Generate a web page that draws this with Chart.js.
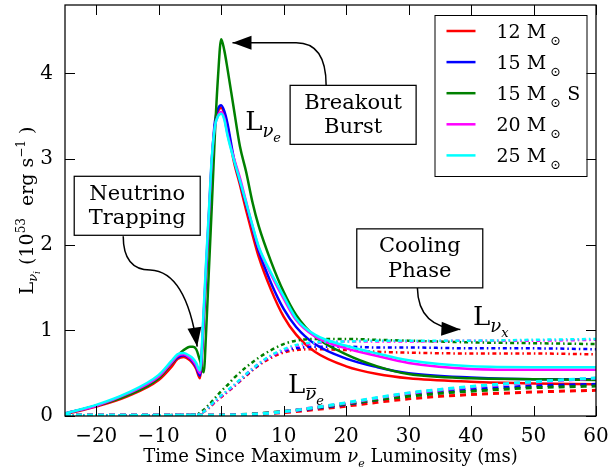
<!DOCTYPE html>
<html>
<head>
<meta charset="utf-8">
<script src="https://cdn.jsdelivr.net/npm/chart.js@4"></script>
<style>
  html, body { margin: 0; padding: 0; background: #fff; }
  #wrap { width: 613px; height: 471px; }
</style>
</head>
<body>
<div id="wrap"><canvas id="lum" width="613" height="471"></canvas></div>
<script>
// time since nu_e luminosity peak (ms)
const tNue = [-25, -20, -15, -10, -8, -7, -6, -5, -4.5, -4, -3.4, -2.8, -2.4, -2, -1.5, -1, -0.5, 0, 0.5, 1, 2, 3, 4, 5, 6, 8, 10, 12, 15, 20, 25, 30, 40, 50, 60];
const tNuebar = [-25, 0, 5, 10, 15, 20, 25, 30, 35, 40, 50, 60];
const tNux = [-25, -10, -4, -3, -2, -1, 0, 1, 2, 4, 6, 8, 10, 12, 15, 20, 25, 30, 40, 50, 60];

// progenitor models
const masses = ['12', '15', '15', '20', '25'];
const variants = ['', '', 'S', '', ''];
const colors = ['#ff0000', '#0000ff', '#008000', '#ff00ff', '#00ffff'];

// L_nu_e (1e53 erg/s)
const nue12 = [0.02, 0.11, 0.23, 0.42, 0.57, 0.665, 0.69, 0.65, 0.61, 0.55, 0.44, 1.12, 1.68, 2.25, 2.95, 3.4, 3.56, 3.6, 3.53, 3.38, 2.98, 2.7, 2.4, 2.12, 1.86, 1.47, 1.16, 0.95, 0.75, 0.58, 0.49, 0.44, 0.40, 0.38, 0.37];
const nue15 = [0.03, 0.12, 0.25, 0.45, 0.61, 0.68, 0.71, 0.67, 0.63, 0.57, 0.47, 1.15, 1.72, 2.28, 2.98, 3.44, 3.59, 3.63, 3.56, 3.42, 3.02, 2.74, 2.47, 2.2, 1.93, 1.55, 1.25, 1.04, 0.84, 0.67, 0.57, 0.50, 0.45, 0.43, 0.43];
const nue15s = [0.03, 0.12, 0.24, 0.44, 0.61, 0.70, 0.77, 0.81, 0.81, 0.78, 0.65, 0.51, 1.0, 1.65, 2.45, 3.3, 3.97, 4.4, 4.27, 4.06, 3.6, 3.15, 2.85, 2.5, 2.22, 1.8, 1.45, 1.18, 0.93, 0.72, 0.58, 0.49, 0.44, 0.43, 0.42];
const nue20 = [0.03, 0.12, 0.26, 0.46, 0.62, 0.70, 0.72, 0.68, 0.645, 0.59, 0.50, 1.2, 1.78, 2.32, 3.0, 3.38, 3.51, 3.55, 3.48, 3.3, 3.02, 2.78, 2.5, 2.22, 1.97, 1.65, 1.37, 1.12, 0.93, 0.79, 0.70, 0.62, 0.55, 0.54, 0.54];
const nue25 = [0.03, 0.13, 0.27, 0.48, 0.64, 0.72, 0.735, 0.70, 0.67, 0.62, 0.53, 1.25, 1.82, 2.35, 3.02, 3.38, 3.5, 3.53, 3.46, 3.28, 3.0, 2.75, 2.49, 2.23, 1.98, 1.67, 1.40, 1.14, 0.95, 0.82, 0.73, 0.65, 0.58, 0.57, 0.57];

// L_anti-nu_e
const nuebar12 = [0.01, 0.01, 0.015, 0.04, 0.075, 0.115, 0.16, 0.2, 0.23, 0.25, 0.28, 0.30];
const nuebar15 = [0.01, 0.01, 0.02, 0.05, 0.09, 0.135, 0.19, 0.24, 0.28, 0.31, 0.35, 0.37];
const nuebar15s = [0.01, 0.01, 0.025, 0.055, 0.095, 0.14, 0.19, 0.23, 0.265, 0.29, 0.33, 0.35];
const nuebar20 = [0.01, 0.01, 0.02, 0.05, 0.1, 0.15, 0.21, 0.265, 0.305, 0.34, 0.395, 0.44];
const nuebar25 = [0.01, 0.01, 0.02, 0.05, 0.1, 0.155, 0.215, 0.27, 0.31, 0.345, 0.40, 0.445];

// L_nu_x
const nux12 = [0.01, 0.01, 0.015, 0.04, 0.09, 0.16, 0.22, 0.28, 0.34, 0.47, 0.59, 0.68, 0.74, 0.77, 0.78, 0.77, 0.75, 0.74, 0.73, 0.73, 0.72];
const nux15 = [0.01, 0.01, 0.015, 0.04, 0.1, 0.17, 0.23, 0.29, 0.35, 0.48, 0.60, 0.70, 0.76, 0.79, 0.81, 0.81, 0.80, 0.80, 0.79, 0.79, 0.78];
const nux15s = [0.01, 0.01, 0.02, 0.06, 0.13, 0.21, 0.29, 0.36, 0.44, 0.57, 0.68, 0.77, 0.84, 0.88, 0.90, 0.90, 0.89, 0.88, 0.86, 0.85, 0.84];
const nux20 = [0.01, 0.01, 0.015, 0.04, 0.1, 0.17, 0.23, 0.29, 0.35, 0.49, 0.61, 0.70, 0.77, 0.82, 0.85, 0.87, 0.87, 0.87, 0.88, 0.88, 0.89];
const nux25 = [0.01, 0.01, 0.015, 0.04, 0.1, 0.18, 0.24, 0.30, 0.36, 0.49, 0.61, 0.71, 0.78, 0.83, 0.86, 0.87, 0.88, 0.88, 0.88, 0.89, 0.90];

const xTicks = [-20, -10, 0, 10, 20, 30, 40, 50, 60];
const yTicks = [0, 1, 2, 3, 4];

const SERIF = '"DejaVu Serif", serif';

// text boxes with curved arrows, placed in data units
const notes = [
    { lines: ['Neutrino', 'Trapping'], at: [-13.44, 2.455],
      path: [[-15.68, 2.10], [-15.68, 1.71], [-11.36, 1.704], [-5.6, 1.687], [-3.84, 0.811]] },
    { lines: ['Breakout', 'Burst'], at: [21.12, 3.517],
      path: [[16.8, 3.863], [16.8, 4.36], [12.0, 4.36], [6.88, 4.36], [1.81, 4.36]] },
    { lines: ['Cooling', 'Phase'], at: [31.79, 1.841],
      path: [[31.41, 1.496], [31.52, 1.033], [38.29, 1.009]] }
];

// flavour labels next to the curves
const flavourTags = [
    { at: [3.84, 3.345], sub: 'e', bar: false },
    { at: [10.7, 0.273], sub: 'e', bar: true },
    { at: [40.3, 1.068], sub: 'x', bar: false }
];

const fontOf = p => `${p.it ? 'italic ' : ''}${p.size}px ${SERIF}`;

function rich(ctx, parts, x, y, align) {
    let w = 0;
    parts.forEach(p => { ctx.font = fontOf(p); p.w = ctx.measureText(p.t).width; w += p.w; });
    let cx = align === 'center' ? x - w / 2 : x;
    parts.forEach(p => {
        ctx.font = fontOf(p);
        ctx.fillText(p.t, cx, y + (p.dy || 0));
        if (p.bar) {
            ctx.save();
            ctx.lineWidth = 1;
            ctx.beginPath();
            ctx.moveTo(cx + 1, y + p.dy - p.size * 0.62);
            ctx.lineTo(cx + p.w, y + p.dy - p.size * 0.62);
            ctx.stroke();
            ctx.restore();
        }
        cx += p.w;
    });
}

function arrowHead(ctx, from, to) {
    const a = Math.atan2(to[1] - from[1], to[0] - from[0]);
    const len = 19, half = 7;
    ctx.beginPath();
    ctx.moveTo(to[0], to[1]);
    ctx.lineTo(to[0] - len * Math.cos(a) + half * Math.sin(a), to[1] - len * Math.sin(a) - half * Math.cos(a));
    ctx.lineTo(to[0] - len * Math.cos(a) - half * Math.sin(a), to[1] - len * Math.sin(a) + half * Math.cos(a));
    ctx.closePath();
    ctx.fill();
}

const decor = {
    id: 'decor',
    afterDatasetsDraw(chart) {
        const { ctx, chartArea: a, scales: { x, y } } = chart;
        const px = p => [x.getPixelForValue(p[0]), y.getPixelForValue(p[1])];
        ctx.save();
        ctx.fillStyle = '#000';
        ctx.strokeStyle = '#000';
        ctx.textAlign = 'left';
        ctx.textBaseline = 'alphabetic';

        // frame and inward ticks on all four sides
        ctx.lineWidth = 1.25;
        ctx.strokeRect(a.left, a.top, a.right - a.left, a.bottom - a.top);
        ctx.lineWidth = 1;
        ctx.beginPath();
        xTicks.forEach(v => {
            const p = Math.round(x.getPixelForValue(v)) + 0.5;
            ctx.moveTo(p, a.bottom); ctx.lineTo(p, a.bottom - 10);
            ctx.moveTo(p, a.top); ctx.lineTo(p, a.top + 10);
        });
        yTicks.forEach(v => {
            const p = Math.round(y.getPixelForValue(v)) + 0.5;
            ctx.moveTo(a.left, p); ctx.lineTo(a.left + 10, p);
            ctx.moveTo(a.right, p); ctx.lineTo(a.right - 10, p);
        });
        ctx.stroke();

        // axis titles
        rich(ctx, [
            { t: 'Time Since Maximum ', size: 18 },
            { t: 'ν', size: 18, it: true },
            { t: 'e', size: 11, it: true, dy: 5 },
            { t: ' Luminosity (ms)', size: 18 }
        ], (a.left + a.right) / 2, 462, 'center');

        ctx.save();
        ctx.translate(33, (a.top + a.bottom) / 2);
        ctx.rotate(-Math.PI / 2);
        rich(ctx, [
            { t: 'L', size: 19 },
            { t: 'ν', size: 13, it: true, dy: 4 },
            { t: 'i', size: 9, it: true, dy: 7 },
            { t: ' (10', size: 19 },
            { t: '53', size: 12, dy: -8 },
            { t: '  erg s', size: 19 },
            { t: '−1', size: 12, dy: -8 },
            { t: ' )', size: 19 }
        ], 0, 0, 'center');
        ctx.restore();

        // annotation boxes and arrows
        notes.forEach(n => {
            const [cx, cy] = px(n.at);
            ctx.fillStyle = '#fff';
            ctx.fillRect(cx - 63, cy - 29.5, 126, 59);
            ctx.lineWidth = 1.25;
            ctx.strokeRect(cx - 63, cy - 29.5, 126, 59);
            ctx.fillStyle = '#000';
            ctx.font = `21px ${SERIF}`;
            ctx.textAlign = 'center';
            n.lines.forEach((s, i) => ctx.fillText(s, cx, cy - 6 + i * 24.5));
            ctx.textAlign = 'left';

            const pts = n.path.map(px);
            ctx.lineWidth = 1.5;
            ctx.beginPath();
            ctx.moveTo(pts[0][0], pts[0][1]);
            for (let i = 1; i + 1 < pts.length; i += 2) {
                ctx.quadraticCurveTo(pts[i][0], pts[i][1], pts[i + 1][0], pts[i + 1][1]);
            }
            ctx.stroke();
            arrowHead(ctx, pts[pts.length - 2], pts[pts.length - 1]);
        });

        // L labels for each flavour
        flavourTags.forEach(f => {
            const [lx, ly] = px(f.at);
            rich(ctx, [
                { t: 'L', size: 26 },
                { t: 'ν', size: 18, it: true, dy: 7, bar: f.bar },
                { t: f.sub, size: 13, it: true, dy: 12 }
            ], lx, ly, 'left');
        });

        // legend
        const lw = 152, lh = 161;
        const lx = a.right - 9.5 - lw, ly = a.top + 10;
        ctx.fillStyle = '#fff';
        ctx.fillRect(lx, ly, lw, lh);
        ctx.lineWidth = 1;
        ctx.strokeRect(lx + 0.5, ly + 0.5, lw, lh);
        masses.forEach((m, i) => {
            const ry = ly + 16 + i * 31.1;
            ctx.strokeStyle = colors[i];
            ctx.lineWidth = 2.5;
            ctx.beginPath();
            ctx.moveTo(lx + 12, ry); ctx.lineTo(lx + 41, ry);
            ctx.stroke();
            ctx.fillStyle = '#000';
            const parts = [
                { t: m + ' M', size: 19 },
                { t: ' ⊙', size: 13, dy: 7 }
            ];
            if (variants[i]) parts.push({ t: ' ' + variants[i], size: 19 });
            rich(ctx, parts, lx + 62, ry + 7, 'left');
        });
        ctx.restore();
    }
};

const flavours = [
    { t: tNue, series: [nue12, nue15, nue15s, nue20, nue25], dash: [], width: 2.5 },
    { t: tNuebar, series: [nuebar12, nuebar15, nuebar15s, nuebar20, nuebar25], dash: [6, 5], width: 3 },
    { t: tNux, series: [nux12, nux15, nux15s, nux20, nux25], dash: [4, 3, 1.5, 3], width: 2.5 }
];

const datasets = [];
masses.forEach((m, mi) => {
    flavours.forEach((f, fi) => {
        datasets.push({
            data: f.t.map((t, i) => ({ x: t, y: f.series[mi][i] })),
            borderColor: colors[mi],
            borderWidth: f.width,
            borderDash: f.dash,
            pointRadius: 0,
            fill: false,
            cubicInterpolationMode: 'monotone',
            order: (masses.length - 1 - mi) * 3 + fi
        });
    });
});

const tickFont = { family: SERIF, size: 20 };
const fmt = v => (v < 0 ? '\u2212' + Math.abs(v) : String(v));

// fixed axis boxes; drop the half-label overhang Chart.js reserves
const fixBox = (w, h) => s => {
    if (w) s.width = w;
    if (h) s.height = h;
    s.paddingTop = 0; s.paddingBottom = 0; s.paddingLeft = 0; s.paddingRight = 0;
};

new Chart(document.getElementById('lum'), {
    type: 'line',
    data: { datasets },
    options: {
        responsive: false,
        animation: false,
        events: [],
        layout: { padding: { top: 5, right: 17, left: 0, bottom: 0 } },
        plugins: { legend: { display: false }, tooltip: { enabled: false } },
        scales: {
            x: {
                type: 'linear', min: -25, max: 60,
                grid: { display: false }, border: { display: false },
                ticks: { font: tickFont, color: '#000', padding: 1, maxRotation: 0, autoSkip: false, callback: fmt },
                afterBuildTicks: s => { s.ticks = xTicks.map(value => ({ value })); },
                afterFit: fixBox(0, 55)
            },
            y: {
                type: 'linear', min: 0, max: 4.8,
                grid: { display: false }, border: { display: false },
                ticks: { font: tickFont, color: '#000', padding: 4, callback: fmt },
                afterBuildTicks: s => { s.ticks = yTicks.map(value => ({ value })); },
                afterFit: fixBox(65, 0)
            }
        }
    },
    plugins: [decor]
});
</script>
</body>
</html>
